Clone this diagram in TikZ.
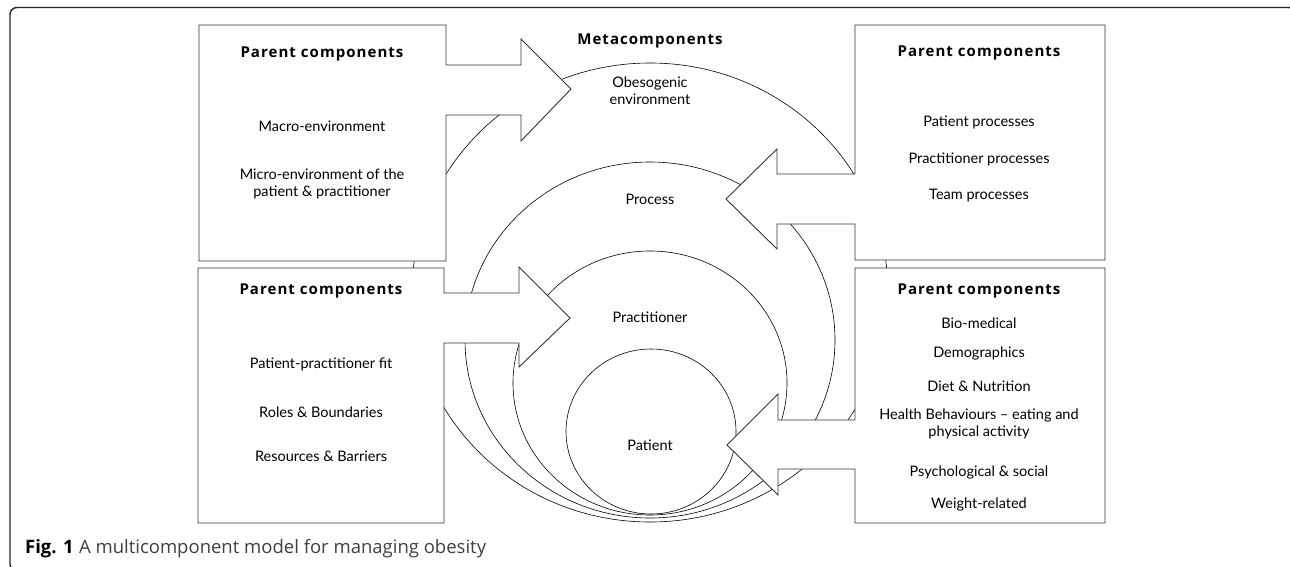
\documentclass[tikz,border=0pt]{standalone}
\usepackage{fontspec}
\setmainfont{Lato}
\newfontfamily\headfont[LetterSpace=7]{Open Sans}
\newfontfamily\capfont{Open Sans}
\usetikzlibrary{positioning}

\begin{document}
\begin{tikzpicture}[x=1pt,y=-1pt]
		\tikzstyle{Part}	= [draw=black!80, fill=white, line width=0.9pt, line join=miter]
		\tikzstyle{Ring}	= [draw=black, line width=0.6pt]
		\tikzstyle{Head}	= [font=\headfont\fontsize{15}{16}\selectfont\bfseries]
		\tikzstyle{Item}	= [font=\fontsize{14.5}{17}\selectfont, align=center]
		\tikzstyle{Caption}	= [inner sep=0pt, font=\capfont\fontsize{18.5}{22}\selectfont]

		\useasboundingbox (0,0) rectangle (1290,567);
		\draw [rounded corners=7pt, line width=1.4pt, black!85] (10,7.5) rectangle (1296,571);

		\draw (650,292.5) ellipse [x radius=238pt, y radius=229.5pt] [Ring];
		\draw (650,340) ellipse [x radius=185pt, y radius=178pt] [Ring];
		\draw (650,383) ellipse [x radius=137pt, y radius=132pt] [Ring];
		\draw (651,431.5) ellipse [x radius=85pt, y radius=82.5pt] [Ring];

		\draw (199,25) -- (446,25) -- (446,65) -- (521,65) -- (521,39) -- (571,89) -- (521,141) -- (521,115) -- (446,115) -- (446,261) -- (199,261) -- cycle [Part];
		\draw (198,268) -- (444,268) -- (444,293) -- (519,293) -- (519,267) -- (570,318) -- (519,367) -- (519,343) -- (444,343) -- (444,523) -- (198,523) -- cycle [Part];
		\draw (855,25) -- (1105,25) -- (1105,260) -- (855,260) -- (855,224) -- (777,224) -- (777,249) -- (726,199) -- (777,149) -- (777,174) -- (855,174) -- cycle [Part];
		\draw (855,268) -- (1105,268) -- (1105,523) -- (855,523) -- (855,469) -- (778,469) -- (778,495) -- (727,445) -- (778,394) -- (778,420) -- (855,420) -- cycle [Part];

		\node (meta) at (650,41) [Head] {Metacomponents};
		\node (obeso) at (650,91) [Item] {Obesogenic\\environment};
		\node (proc) at (650,199) [Item] {Process};
		\node (pract) at (650,317) [Item] {Practitioner};
		\node (pat) at (650,445) [Item] {Patient};

		\node (envhead) at (322,54) [Head] {Parent components};
		\node (macro) at (322,126) [Item] {Macro-environment};
		\node (micro) at (322,183.5) [Item] {Micro-environment of the\\patient \& practitioner};

		\node (fithead) at (321,291) [Head] {Parent components};
		\node (fit) at (321,364) [Item] {Patient-practitioner fit};
		\node (roles) at (321,412) [Item] {Roles \& Boundaries};
		\node (res) at (321,456) [Item] {Resources \& Barriers};

		\node (prochead) at (979,53) [Head] {Parent components};
		\node (patproc) at (979,122) [Item] {Patient processes};
		\node (pracproc) at (979,159) [Item] {Practitioner processes};
		\node (teamproc) at (979,196) [Item] {Team processes};

		\node (pathead) at (979,291) [Head] {Parent components};
		\node (bio) at (979,323) [Item] {Bio-medical};
		\node (demo) at (979,353) [Item] {Demographics};
		\node (diet) at (979,386) [Item] {Diet \& Nutrition};
		\node (health) at (979,423.5) [Item] {Health Behaviours -- eating and\\physical activity};
		\node (psych) at (979,472) [Item] {Psychological \& social};
		\node (weight) at (979,504) [Item] {Weight-related};

		\node (fig) at (25,553) [anchor=base west] [Caption] {\bfseries Fig. 1};
		\node (title) [base right=5pt of fig] [Caption, text=black!75] {A multicomponent model for managing obesity};
\end{tikzpicture}
\end{document}
